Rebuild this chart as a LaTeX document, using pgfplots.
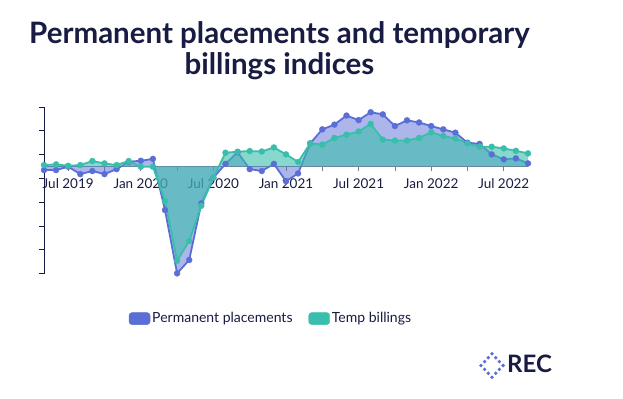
\documentclass[border=0pt]{standalone}
\usepackage{pgfplots}
\pgfplotsset{compat=1.18}
\usepackage{pgfplotstable}
\usepackage{fontspec}
\setmainfont{Lato}
\definecolor{navy}{RGB}{24,27,66}
\definecolor{perm}{RGB}{90,110,214}
\definecolor{temp}{RGB}{58,190,172}
\definecolor{baseg}{RGB}{120,124,140}

% i: months from May 2019 (0) to Sep 2022 (40); index values (50 = no change)
\pgfplotstableread{
i perm temp
0 48.5 50.6
1 48.5 50.9
2 49.9 50.3
3 46.8 50.6
4 48.1 52.3
5 46.8 51.3
6 48.9 50.6
7 52.0 52.3
8 52.4 49.9
9 53.2 49.9
10 31.7 35.5
11 5.1 10.4
12 10.7 18.7
13 34.5 33.5
14 45.3 45.3
15 51.1 55.8
16 56.0 56.2
17 48.9 56.5
18 48.1 56.3
19 51.1 58.0
20 43.8 55.1
21 47.1 51.9
22 59.7 59.7
23 65.6 59.2
24 67.6 62.0
25 71.4 63.4
26 69.5 64.7
27 72.8 67.9
28 71.9 61.3
29 67.0 60.9
30 69.4 60.9
31 68.5 62.0
32 67.0 64.4
33 65.6 62.8
34 64.2 61.8
35 60.0 59.7
36 59.5 58.3
37 55.1 58.3
38 53.0 57.6
39 53.4 56.6
40 51.3 55.5
}\datatable

\begin{document}
\begin{tikzpicture}
\path[use as bounding box] (0bp,0bp) rectangle (623bp,399bp);
\node[anchor=base, align=center, text=navy, font=\fontsize{29.5bp}{31.7bp}\selectfont\bfseries] at (279.5bp,324bp) {Permanent placements and temporary\\billings indices};
\begin{axis}[
  at={(44bp,232.5bp)}, anchor=origin,
  scale only axis, width=484bp, height=166.6bp,
  xmin=0, xmax=40, ymin=-45, ymax=25,
  axis x line=middle, axis y line=left,
  axis line style={-},
  x axis line style={draw=baseg, line width=0.8bp},
  y axis line style={draw=navy, line width=0.9bp},
  tick align=outside,
  major tick length=5bp,
  xtick={2,5,...,38},
  xticklabels={Jul 2019,,Jan 2020,,Jul 2020,,Jan 2021,,Jul 2021,,Jan 2022,,Jul 2022},
  x tick style={draw=baseg, line width=0.8bp},
  x tick label style={font=\fontsize{13.5bp}{15bp}\selectfont, text=navy, yshift=-4bp},
  ytick={-45,-35,...,25},
  yticklabels={},
  y tick style={draw=navy, line width=0.9bp},
  clip=false,
  legend style={at={(0.469,-0.27)}, anchor=center, draw=none, fill=none,
    legend columns=2, font=\fontsize{14bp}{16bp}\selectfont, text=navy,
    /tikz/every even column/.append style={column sep=14bp}},
]
\addlegendimage{legend image code/.code={\fill[perm, rounded corners=3bp] (0bp,-6bp) rectangle (21bp,6bp);}}
\addlegendentry{Permanent placements}
\addlegendimage{legend image code/.code={\fill[temp, rounded corners=3bp] (0bp,-6bp) rectangle (21bp,6bp);}}
\addlegendentry{Temp billings}

\addplot[draw=none, fill=perm, fill opacity=0.5, forget plot] table[x=i, y expr=\thisrow{perm}-50] {\datatable} \closedcycle;
\addplot[perm, line width=1.8bp, mark=*, mark size=3bp, mark options={solid, fill=perm, draw=perm, line width=0.3bp}, forget plot] table[x=i, y expr=\thisrow{perm}-50] {\datatable};
\addplot[draw=none, fill=temp, fill opacity=0.6, forget plot] table[x=i, y expr=\thisrow{temp}-50] {\datatable} \closedcycle;
\addplot[temp, line width=1.8bp, mark=*, mark size=3bp, mark options={solid, fill=temp, draw=temp, line width=0.3bp}, forget plot] table[x=i, y expr=\thisrow{temp}-50] {\datatable};
\end{axis}
\begin{scope}[x=1bp,y=1bp]
\foreach \a/\b in {-1.5/-1.5,-1.5/-0.5,-1.5/0.5,-1.5/1.5,-0.5/-1.5,-0.5/1.5,0.5/-1.5,0.5/1.5,1.5/-1.5,1.5/-0.5,1.5/0.5,1.5/1.5}
  \fill[perm] ({492+(\a-\b)*3.7},{33.5+(\a+\b)*3.9}) circle (1.9);
\node[anchor=base west, inner sep=0pt, text=navy, font=\fontsize{24bp}{26bp}\selectfont\bfseries] at (507,27) {REC};
\end{scope}
\end{tikzpicture}
\end{document}
